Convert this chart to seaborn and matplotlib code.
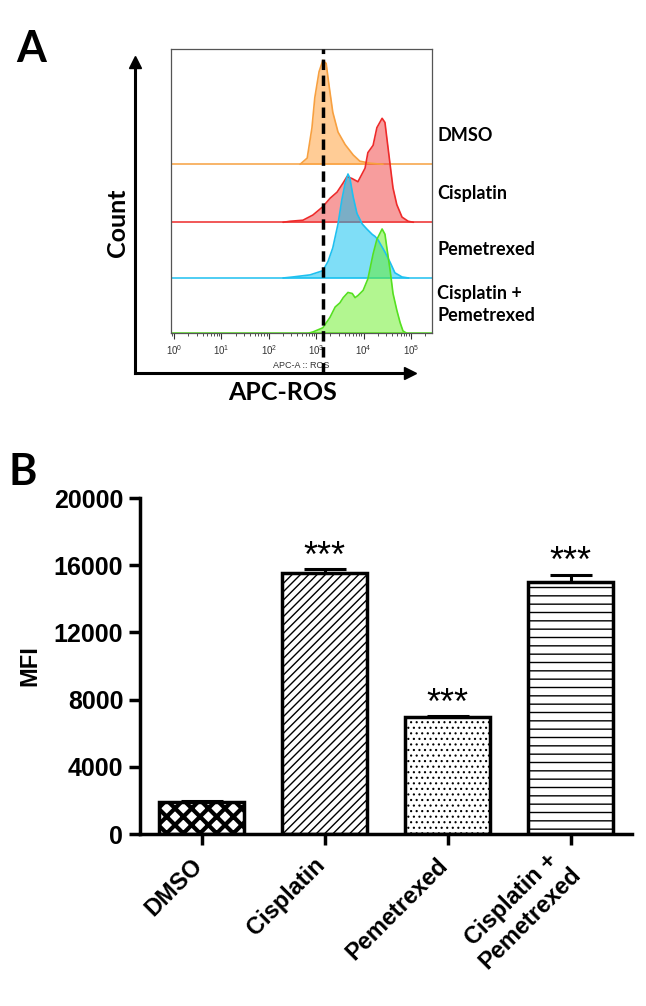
import numpy as np
import matplotlib
matplotlib.use('Agg')
import matplotlib.pyplot as plt
import matplotlib.transforms as mtransforms
import seaborn as sns

# ---------------- Panel A: ROS histograms (x = log10 APC-A, y = height / peak) ----------------
dmso_logx = [2.66, 2.81, 2.91, 2.97, 3.06, 3.14, 3.21, 3.27, 3.35, 3.46, 3.61, 3.78, 3.92, 4.14, 4.41]
dmso_h = [0.0, 0.06, 0.35, 0.64, 0.89, 1.0, 0.97, 0.76, 0.50, 0.31, 0.19, 0.09, 0.03, 0.01, 0.0]

cis_logx = [2.30, 2.45, 2.72, 2.93, 3.14, 3.29, 3.44, 3.57, 3.65, 3.76, 3.88, 4.03, 4.09, 4.20,
            4.28, 4.39, 4.45, 4.49, 4.56, 4.62, 4.70, 4.81, 4.94, 5.05]
cis_h = [0.0, 0.01, 0.02, 0.07, 0.15, 0.23, 0.29, 0.38, 0.44, 0.42, 0.39, 0.52, 0.67, 0.74,
         0.91, 1.0, 0.96, 0.81, 0.55, 0.33, 0.17, 0.05, 0.01, 0.0]

pem_logx = [2.30, 2.51, 2.87, 3.14, 3.25, 3.35, 3.46, 3.54, 3.61, 3.67, 3.71, 3.78, 3.86, 3.97,
            4.07, 4.18, 4.24, 4.30, 4.45, 4.56, 4.66, 4.81, 4.95]
pem_h = [0.0, 0.01, 0.03, 0.07, 0.16, 0.29, 0.52, 0.75, 0.91, 1.0, 0.96, 0.78, 0.62, 0.52,
         0.47, 0.42, 0.40, 0.37, 0.25, 0.15, 0.05, 0.01, 0.0]

combo_logx = [2.85, 2.93, 3.14, 3.29, 3.40, 3.50, 3.57, 3.67, 3.76, 3.82, 3.88, 3.99, 4.09, 4.20,
              4.28, 4.39, 4.45, 4.49, 4.56, 4.62, 4.70, 4.77, 4.83, 4.90]
combo_h = [0.0, 0.01, 0.05, 0.15, 0.25, 0.29, 0.34, 0.39, 0.38, 0.34, 0.36, 0.41, 0.52, 0.76,
           0.90, 1.0, 0.95, 0.82, 0.60, 0.38, 0.22, 0.10, 0.02, 0.0]

hist_labels = ['DMSO', 'Cisplatin', 'Pemetrexed', 'Cisplatin +\nPemetrexed']
gate_value = 1380

# ---------------- Panel B: MFI ----------------
groups = ['DMSO', 'Cisplatin', 'Pemetrexed', 'Cisplatin +\nPemetrexed']
mfi_mean = [1880, 15550, 6950, 15000]
mfi_sem = [90, 220, 60, 440]
signif = ['', '***', '***', '***']

sns.set_theme(style='ticks')
plt.rcParams['font.family'] = ['Lato', 'DejaVu Sans']
plt.rcParams['hatch.color'] = 'black'
for k in ['text.color', 'axes.labelcolor', 'xtick.color', 'ytick.color', 'axes.edgecolor']:
    plt.rcParams[k] = 'black'

W, H = 646, 1006
fig = plt.figure(figsize=(W / 100, H / 100), dpi=100)


def fbox(x0, y0, x1, y1):
    # pixel box (top-left origin) -> figure fraction rect
    return [x0 / W, 1 - y1 / H, (x1 - x0) / W, (y1 - y0) / H]


# ---- outer frame with arrows ----
axf = fig.add_axes(fbox(135, 62, 410, 373))
axf.set_xlim(0, 1)
axf.set_ylim(0, 1)
axf.patch.set_alpha(0)
for s in ['top', 'right']:
    axf.spines[s].set_visible(False)
for s in ['left', 'bottom']:
    axf.spines[s].set_linewidth(2.2)
axf.set_xticks([])
axf.set_yticks([])
axf.plot(1, 0, '>', color='black', ms=9, transform=axf.transAxes, clip_on=False)
axf.plot(0, 1, '^', color='black', ms=9, transform=axf.transAxes, clip_on=False)

# ---- inner flow histogram ----
ax = fig.add_axes(fbox(171, 49, 432, 333))
row = 55.0
offsets = [(333 - 164.3) / row, (333 - 222.3) / row, (333 - 278) / row, 0.0]
peak = 104 / row
fills = ['#FF9A2E', '#F03C3C', '#00BFF0', '#66EE22']
lines = ['#F7A040', '#EE2A2A', '#1EC0F0', '#55E020']
traces = [(dmso_logx, dmso_h), (cis_logx, cis_h), (pem_logx, pem_h), (combo_logx, combo_h)]

for (lx, hy), off, fc, lc, lab in zip(traces, offsets, fills, lines, hist_labels):
    xs = 10 ** np.array(lx)
    ys = off + peak * np.array(hy)
    ax.axhline(off, color=lc, lw=1.1, zorder=1)
    ax.fill_between(xs, off, ys, color=fc, alpha=0.5, lw=0, zorder=2)
    sns.lineplot(x=xs, y=ys, ax=ax, color=lc, lw=1.2, sort=False, estimator=None, zorder=3)
    ax.text(1.02, off + 0.52, lab, transform=ax.get_yaxis_transform(),
            ha='left', va='center', fontsize=13, fontweight='bold', linespacing=1.35)

ax.set_xscale('log')
ax.set_xlim(0.865, 2.77e5)
ax.set_ylim(0, 284 / row)
ax.plot([gate_value, gate_value], [-(373 - 333) / row, 284 / row], color='black', lw=2.5,
        dashes=(3, 1.6), clip_on=False, zorder=5)
ax.set_yticks([])
ax.set_xticks([1, 10, 100, 1e3, 1e4, 1e5])
for s in ax.spines.values():
    s.set_color('#555555')
    s.set_linewidth(0.9)
ax.tick_params(axis='x', which='major', direction='out', length=4, width=0.8, color='#333333',
               labelsize=7, labelcolor='#333333', pad=3)
ax.tick_params(axis='x', which='minor', direction='out', length=2, width=0.6, color='#333333')
ax.set_xlabel('APC-A :: ROS', fontsize=6.5, color='#333333', labelpad=3, family='Liberation Sans')
for t in ax.get_xticklabels():
    t.set_family('Liberation Sans')

fig.text(117 / W, 1 - 223 / H, 'Count', rotation=90, ha='center', va='center',
         fontsize=18, fontweight='bold')
fig.text(283 / W, 1 - 393 / H, 'APC-ROS', ha='center', va='center', fontsize=18, fontweight='bold')
fig.text(16 / W, 1 - 62 / H, 'A', ha='left', va='baseline', fontsize=31, fontweight='bold')
fig.text(9 / W, 1 - 485 / H, 'B', ha='left', va='baseline', fontsize=31, fontweight='bold')

# ---- panel B bars ----
axb = fig.add_axes(fbox(140, 498, 632, 834))
sns.barplot(x=groups, y=mfi_mean, ax=axb, color='white', edgecolor='black', linewidth=2.5,
            width=0.69, errorbar=None, saturation=1, zorder=2)
hatches = ['xx', '////', '...', '--']
hatch_lw = [3.0, 1.0, 0.8, 1.0]
for p, h, hl in zip(axb.patches, hatches, hatch_lw):
    p.set_hatch(h)
    if hasattr(p, 'set_hatch_linewidth'):
        p.set_hatch_linewidth(hl)

axb.errorbar(np.arange(len(groups)), mfi_mean, yerr=[np.zeros(len(groups)), mfi_sem],
             fmt='none', ecolor='black', elinewidth=2.2, capsize=15, capthick=2.2, zorder=1)
for i, (m, e, s) in enumerate(zip(mfi_mean, mfi_sem, signif)):
    axb.text(i, m + e + 150, s, ha='center', va='baseline', fontsize=26,
             family='Liberation Sans')

axb.set_xlim(-0.5, 3.5)
axb.set_ylim(0, 20000)
axb.set_yticks(np.arange(0, 20001, 4000))
sns.despine(ax=axb)
for s in ['left', 'bottom']:
    axb.spines[s].set_linewidth(2.5)
axb.tick_params(axis='y', direction='out', length=8, width=2.5, labelsize=18, pad=4)
axb.tick_params(axis='x', direction='out', length=8, width=2.5, labelsize=17, pad=12)
axb.set_xticks(range(len(groups)))
axb.set_xticklabels(groups, rotation=45, ha='right', va='center', rotation_mode='anchor',
                    multialignment='center')
shift = mtransforms.ScaledTranslation(-2 / 72, 0, fig.dpi_scale_trans)
for t in axb.get_xticklabels():
    t.set_transform(t.get_transform() + shift)
for t in axb.get_xticklabels() + axb.get_yticklabels():
    t.set_family('Liberation Sans')
    t.set_fontweight('bold')
axb.set_ylabel('MFI', fontsize=17, fontweight='bold', family='Liberation Sans')
axb.yaxis.set_label_coords(-0.201, 0.5)
axb.set_xlabel('')

fig.savefig('out.png', dpi=100)
